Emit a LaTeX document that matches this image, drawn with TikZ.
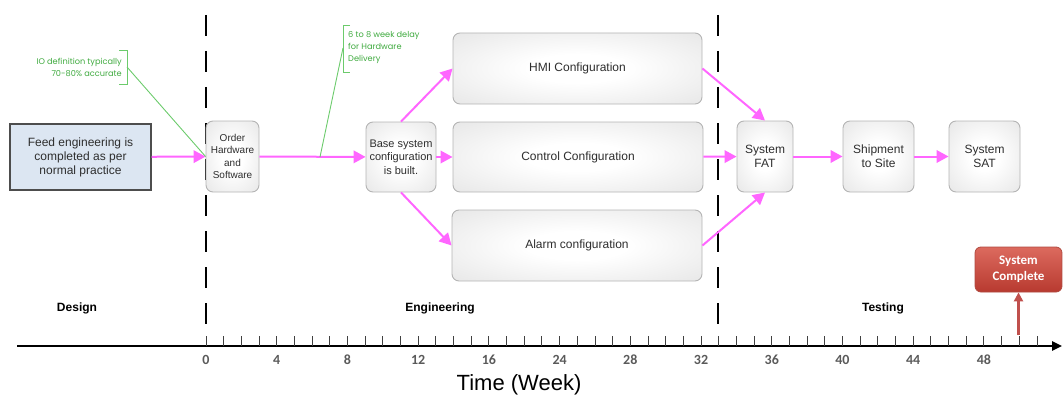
\documentclass[tikz,border=0pt]{standalone}
\usepackage{fontspec}
\setmainfont{Liberation Sans}
\newfontfamily\calfont{Carlito}
\newfontfamily\notefont{Poppins}
\usetikzlibrary{arrows.meta,shadings}

\definecolor{flow}{HTML}{FF66FF}
\definecolor{boxedge}{HTML}{B4B4B4}
\definecolor{boxgray}{HTML}{D6D6D6}
\definecolor{boxtext}{HTML}{2E2E2E}
\definecolor{feedfill}{HTML}{DCE6F2}
\definecolor{feededge}{HTML}{4D4D4D}
\definecolor{notegreen}{HTML}{3FAA3F}
\definecolor{notestroke}{HTML}{6CCB6C}
\definecolor{donetop}{HTML}{DC6A5E}
\definecolor{donebot}{HTML}{B83A30}
\definecolor{doneedge}{HTML}{B04A40}
\definecolor{donearrow}{HTML}{C0504D}
\definecolor{ticknum}{HTML}{5A5A5A}

% soft glow: white centre fading to light gray at the rim
\pgfdeclareradialshading{boxglow}{\pgfpoint{0bp}{0bp}}{%
  color(0bp)=(white);
  color(10bp)=(white);
  color(50bp)=(boxgray!90!white);
  color(71bp)=(boxgray)}

\tikzset{
  procbox/.style={draw=boxedge, line width=0.9pt, rounded corners=7pt,
    shading=boxglow, text=boxtext, align=center, inner sep=1pt},
  bigtext/.style={font=\fontsize{12}{14}\selectfont},
  midtext/.style={font=\fontsize{11}{13.7}\selectfont},
  smalltext/.style={font=\fontsize{10}{12.3}\selectfont},
  flowarrow/.style={draw=flow, line width=2pt, -{Triangle[length=12pt,width=12.5pt]}},
  phasedash/.style={draw=black, line width=1.6pt, dash pattern=on 21pt off 15pt},
  notetext/.style={text=notegreen, font=\notefont\fontsize{8.2}{12}\selectfont,
    inner sep=0pt},
  noteline/.style={draw=notestroke, line width=0.9pt},
  phaselabel/.style={font=\bfseries\fontsize{12}{14}\selectfont, text=black},
  weeknum/.style={font=\calfont\bfseries\fontsize{14}{16}\selectfont, text=ticknum},
}

\begin{document}
\begin{tikzpicture}[x=1pt, y=-1pt]
\useasboundingbox (0,0) rectangle (1063,396);

% phase boundaries
\draw[phasedash] (206,15) -- (206,330);
\draw[phasedash] (718,15) -- (718,330);

% process boxes
\node[draw=feededge, line width=1.3pt, fill=feedfill, text=boxtext,
      minimum width=141, minimum height=66, align=center, bigtext]
      (feed) at (80.5,157) {Feed engineering is\\completed as per\\normal practice};
\node[procbox, smalltext, minimum width=53, minimum height=71]
      (order) at (232.5,156.5) {Order\\Hardware\\and\\Software};
\node[procbox, midtext, minimum width=70, minimum height=70]
      (base) at (401,157) {Base system\\configuration\\is built.};
\node[procbox, bigtext, minimum width=249, minimum height=71]
      (hmi) at (577.5,68.5) {HMI Configuration};
\node[procbox, bigtext, minimum width=250, minimum height=70]
      (control) at (578,157) {Control Configuration};
\node[procbox, bigtext, minimum width=250, minimum height=71]
      (alarm) at (577,245.5) {Alarm configuration};
\node[procbox, bigtext, minimum width=56, minimum height=71]
      (fat) at (765,156.5) {System\\FAT};
\node[procbox, bigtext, minimum width=71, minimum height=71]
      (ship) at (878.5,156.5) {Shipment\\to Site};
\node[procbox, bigtext, minimum width=71, minimum height=71]
      (sat) at (984.5,156.5) {System\\SAT};

% flow arrows
\coordinate (dlpt) at (320,157);
\draw[flowarrow] (feed) -- (order);
\draw[flowarrow] (order) -- (base);
\draw[flowarrow] (base.north) -- (hmi.west);
\draw[flowarrow] (base) -- (control);
\draw[flowarrow] (base.south) -- (alarm.west);
\draw[flowarrow] (hmi.east) -- (fat.north);
\draw[flowarrow] (control) -- (fat);
\draw[flowarrow] (alarm.east) -- (fat.south);
\draw[flowarrow] (fat) -- (ship);
\draw[flowarrow] (ship) -- (sat);

% notes
\node[notetext, anchor=east, align=right] (iotext) at (122,67)
      {IO definition typically\\70-80\% accurate};
\coordinate (iobr) at (127,67);
\draw[noteline] (119,50) -- (127,50) -- (127,84) -- (119,84);
\draw[noteline] (iobr) -- (order.west);

\node[notetext, anchor=west, align=left] (dltext) at (348,48)
      {6 to 8 week delay\\for Hardware\\Delivery};
\coordinate (dlbr) at (343,48);
\draw[noteline] (350,25) -- (343,25) -- (343,72) -- (350,72);
\draw[noteline] (dlbr) -- (dlpt);

% phase names
\node[phaselabel] (design) at (77,308) {Design};
\node[phaselabel] (eng) at (440,308) {Engineering};
\node[phaselabel] (test) at (883,308) {Testing};

% time axis
\coordinate (axstart) at (17,346);
\coordinate (axend) at (1062,346);
\draw[black, line width=2.4pt, -{Triangle[length=10pt,width=9pt]}] (axstart) -- (axend);
\foreach \i in {0,...,47}
  \draw[black!75, line width=0.9pt] ({206+\i*17.68},336) -- ({206+\i*17.68},346);
\foreach \lab [count=\k from 0] in {0,4,8,12,16,24,28,32,36,40,44,48}
  \node[weeknum] at ({206+\k*70.72},360) {\lab};
\node[font=\fontsize{22}{25}\selectfont, text=black] (axtitle) at (519,385) {Time (Week)};

% completion marker
\node[draw=doneedge, line width=0.8pt, rounded corners=6pt,
      top color=donetop, bottom color=donebot, text=white, align=center,
      font=\calfont\bfseries\fontsize{13}{16.5}\selectfont,
      minimum width=87, minimum height=45, inner sep=1pt]
      (done) at (1018.5,269.5) {System\\Complete};
\coordinate (donept) at (1018.5,335);
\draw[draw=donearrow, line width=2.6pt, -{Triangle[length=9pt,width=9pt]}] (donept) -- (done.south);

\end{tikzpicture}
\end{document}
